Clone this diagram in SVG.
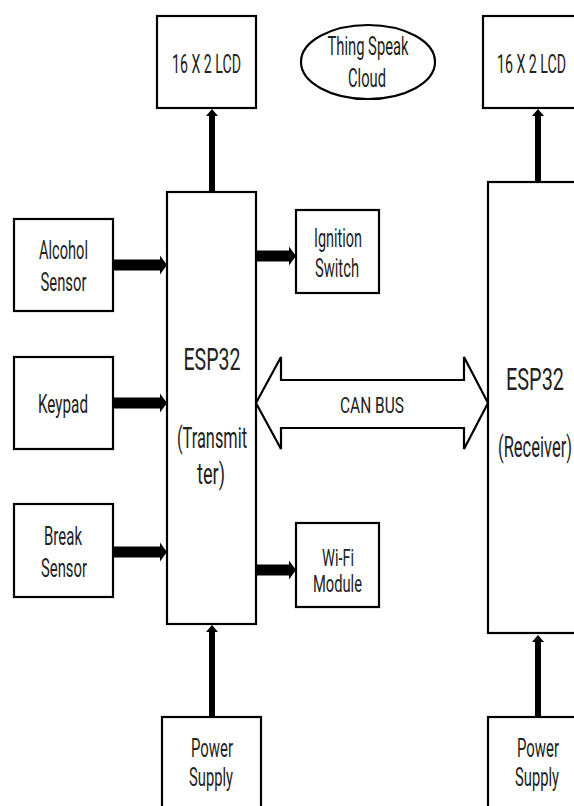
<svg xmlns="http://www.w3.org/2000/svg" width="574" height="806" viewBox="0 0 574 806">
<defs>
<style>
.box{fill:#fff;stroke:#000;stroke-width:2.2}
.t{font-family:Roboto,"Liberation Sans",sans-serif;fill:#222;text-anchor:middle;font-size:25px}
.big{font-size:32px}
.mid{font-size:29px}
.can{font-size:22px}
.sm{font-size:23px}
.h{stroke:#000;stroke-width:11;fill:none}
.v{stroke:#000;stroke-width:6;fill:none}
</style>
<marker id="ah" markerUnits="userSpaceOnUse" markerWidth="7" markerHeight="19" refX="0" refY="9.5" orient="auto" overflow="visible">
<path d="M0,0 L7,9.5 L0,19 Z" fill="#000"/>
</marker>
<marker id="av" markerUnits="userSpaceOnUse" markerWidth="7" markerHeight="12" refX="0" refY="6" orient="auto" overflow="visible">
<path d="M0,0 L7,6 L0,12 Z" fill="#000"/>
</marker>
</defs>
<rect width="574" height="806" fill="#fff"/>

<g id="connectors">
<line class="h" x1="113" y1="265" x2="160" y2="265" marker-end="url(#ah)"/>
<line class="h" x1="113" y1="403" x2="160" y2="403" marker-end="url(#ah)"/>
<line class="h" x1="113" y1="552" x2="160" y2="552" marker-end="url(#ah)"/>
<line class="h" x1="256" y1="256" x2="289" y2="256" marker-end="url(#ah)"/>
<line class="h" x1="256" y1="570" x2="289" y2="570" marker-end="url(#ah)"/>
<line class="v" x1="212" y1="192" x2="212" y2="116" marker-end="url(#av)"/>
<line class="v" x1="538" y1="182" x2="538" y2="116" marker-end="url(#av)"/>
<line class="v" x1="212" y1="717" x2="212" y2="632" marker-end="url(#av)"/>
<line class="v" x1="538" y1="717" x2="538" y2="642" marker-end="url(#av)"/>
</g>

<g id="lcd-left">
<rect class="box" x="157" y="16" width="99" height="92"/>
<text class="t" x="206.5" y="73" font-size="26" textLength="69" lengthAdjust="spacingAndGlyphs">16 X 2 LCD</text>
</g>
<g id="thingspeak">
<ellipse class="box" cx="368" cy="62" rx="67" ry="37"/>
<text class="t" x="368" y="55" textLength="81" lengthAdjust="spacingAndGlyphs">Thing Speak</text>
<text class="t" x="367" y="87" textLength="38" lengthAdjust="spacingAndGlyphs">Cloud</text>
</g>
<g id="lcd-right">
<rect class="box" x="483" y="16" width="100" height="92"/>
<text class="t" x="531.5" y="73" font-size="26" textLength="69" lengthAdjust="spacingAndGlyphs">16 X 2 LCD</text>
</g>

<g id="alcohol">
<rect class="box" x="14" y="219" width="99" height="92"/>
<text class="t" x="63.5" y="259" textLength="49" lengthAdjust="spacingAndGlyphs">Alcohol</text>
<text class="t" x="63.5" y="291" textLength="46" lengthAdjust="spacingAndGlyphs">Sensor</text>
</g>
<g id="keypad">
<rect class="box" x="14" y="357" width="99" height="92"/>
<text class="t" x="63" y="413" textLength="50" lengthAdjust="spacingAndGlyphs">Keypad</text>
</g>
<g id="break">
<rect class="box" x="14" y="504" width="99" height="93"/>
<text class="t" x="63" y="545" textLength="38" lengthAdjust="spacingAndGlyphs">Break</text>
<text class="t" x="64" y="577" textLength="46" lengthAdjust="spacingAndGlyphs">Sensor</text>
</g>

<g id="esp32-tx">
<rect class="box" x="167" y="192" width="89" height="432"/>
<text class="t big" x="212" y="370" textLength="57" lengthAdjust="spacingAndGlyphs">ESP32</text>
<text class="t mid" x="212" y="448" textLength="70" lengthAdjust="spacingAndGlyphs">(Transmit</text>
<text class="t mid" x="211" y="484" textLength="28" lengthAdjust="spacingAndGlyphs">ter)</text>
</g>

<g id="ignition">
<rect class="box" x="296" y="210" width="83" height="83"/>
<text class="t" x="338" y="247" textLength="48" lengthAdjust="spacingAndGlyphs">Ignition</text>
<text class="t" x="337" y="277" textLength="44" lengthAdjust="spacingAndGlyphs">Switch</text>
</g>
<g id="wifi">
<rect class="box" x="296" y="523" width="83" height="84"/>
<text class="t sm" x="338" y="566" textLength="32" lengthAdjust="spacingAndGlyphs">Wi-Fi</text>
<text class="t sm" x="337.5" y="592" textLength="49" lengthAdjust="spacingAndGlyphs">Module</text>
</g>

<g id="canbus">
<polygon class="box" points="256,403 281,357 281,380 464,380 464,357 488,403 464,449 464,428 281,428 281,449"/>
<text class="t can" x="372" y="413" textLength="64" lengthAdjust="spacingAndGlyphs">CAN BUS</text>
</g>

<g id="esp32-rx">
<rect class="box" x="488" y="182" width="92" height="451"/>
<text class="t big" x="535" y="390" textLength="58" lengthAdjust="spacingAndGlyphs">ESP32</text>
<text class="t mid" x="535" y="457" textLength="74" lengthAdjust="spacingAndGlyphs">(Receiver)</text>
</g>

<g id="power-left">
<rect class="box" x="162" y="717" width="99" height="95"/>
<text class="t" x="212" y="757" textLength="42" lengthAdjust="spacingAndGlyphs">Power</text>
<text class="t" x="211" y="786" textLength="44" lengthAdjust="spacingAndGlyphs">Supply</text>
</g>
<g id="power-right">
<rect class="box" x="488" y="717" width="99" height="95"/>
<text class="t" x="538" y="757" textLength="42" lengthAdjust="spacingAndGlyphs">Power</text>
<text class="t" x="537" y="786" textLength="44" lengthAdjust="spacingAndGlyphs">Supply</text>
</g>
</svg>
